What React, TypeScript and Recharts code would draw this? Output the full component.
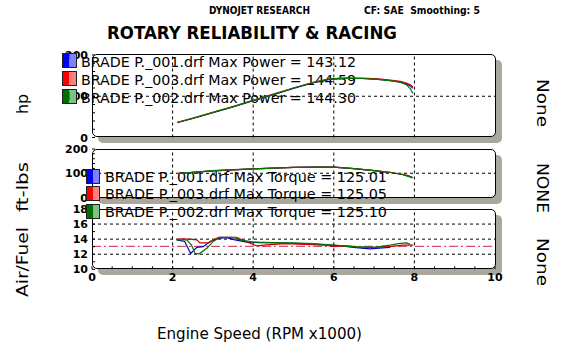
import React from 'react';
import { LineChart, Line, XAxis, YAxis, ReferenceLine } from 'recharts';

const W = 571;
const H = 356;
const FONT = '"DejaVu Sans", Verdana, sans-serif';

// ---------- data ----------
const rpmPower = [2.12, 2.5, 3.0, 3.5, 4.0, 4.5, 5.0, 5.5, 5.9, 6.3, 6.7, 7.1, 7.4, 7.65, 7.8, 7.9, 7.96];
const powerBlue = [37, 46, 60, 74, 89, 104, 119, 133, 141, 143, 143, 141, 138, 134, 130, 125, 119];
const powerRed = [36, 46, 61, 75, 90, 105, 120, 134, 142, 144, 144, 142, 139, 136, 132, 128, 123];
const powerGreen = [37, 47, 61, 75, 90, 104, 120, 134, 142, 144, 143, 141, 138, 134, 128, 118, 107];

const rpmTorque = [2.12, 2.5, 3.0, 3.5, 4.0, 4.5, 5.0, 5.5, 6.0, 6.5, 7.0, 7.4, 7.7, 7.85, 7.95];
const torqueBlue = [99, 104, 110, 114, 118, 121, 124, 125, 125, 119, 111, 103, 95, 88, 83];
const torqueRed = [98, 104, 110, 114, 118, 121, 124, 125, 125, 119, 111, 104, 96, 90, 80];
const torqueGreen = [99, 104, 111, 115, 118, 121, 124, 125, 125, 119, 111, 103, 95, 87, 82];

const rpmAfrBlue = [2.1, 2.3, 2.45, 2.6, 2.76, 2.93, 3.13, 3.34, 3.55, 3.84, 4.17, 4.6, 5.0, 5.4, 5.82, 6.2, 6.48, 6.9, 7.2, 7.4];
const afrBlue = [13.9, 13.7, 12.1, 12.9, 13.0, 13.7, 14.1, 14.2, 13.9, 13.6, 13.55, 13.5, 13.45, 13.35, 13.25, 13.1, 12.9, 12.7, 12.85, 12.9];
const rpmAfrRed = [2.14, 2.43, 2.6, 2.68, 2.89, 3.01, 3.14, 3.59, 3.72, 3.92, 4.09, 4.34, 4.8, 5.3, 5.8, 6.0, 6.3, 6.6, 7.0, 7.4, 7.7, 7.97];
const afrRed = [14.05, 14.0, 13.9, 13.5, 13.5, 13.9, 14.25, 14.25, 13.9, 13.45, 13.1, 13.25, 13.4, 13.3, 13.2, 13.0, 13.1, 12.95, 12.9, 13.0, 13.2, 13.2];
const rpmAfrGreen = [2.1, 2.35, 2.47, 2.56, 2.66, 2.85, 3.01, 3.18, 3.47, 3.68, 4.0, 4.5, 5.0, 5.5, 6.0, 6.5, 7.0, 7.4, 7.6, 7.8, 7.9];
const afrGreen = [13.9, 13.9, 13.2, 12.1, 12.05, 12.8, 13.7, 14.25, 14.25, 13.9, 13.6, 13.55, 13.5, 13.4, 13.2, 13.0, 12.9, 13.2, 13.4, 13.5, 13.3];

const afrTarget = 13.05;

const seriesNames = ['BRADE P._001.drf', 'BRADE P._003.drf', 'BRADE P._002.drf'];
const maxPower = ['143.12', '144.59', '144.30'];
const maxTorque = ['125.01', '125.05', '125.10'];

const xTicks = [0, 0.5, 1, 1.5, 2, 2.5, 3, 3.5, 4, 4.5, 5, 5.5, 6, 6.5, 7, 7.5, 8, 8.5, 9, 9.5, 10];
const xLabels = [0, 2, 4, 6, 8, 10];
const hpTicks = [0, 20, 40, 60, 80, 100, 120, 140, 160, 180, 200];
const hpLabels = [0, 100, 200];
const afrTicks = [10, 11, 12, 13, 14, 15, 16, 17, 18];
const afrLabels = [10, 12, 14, 16, 18];

const zip = (xs: number[], ys: number[]) => xs.map((x, i) => ({ x, y: ys[i] }));

const LINE_COLORS = ['#0000c8', '#d00000', '#007800'];
const SQ_DARK = ['#0000ff', '#ff0000', '#007000'];
const SQ_LIGHT = ['#8080ff', '#ff8080', '#80c080'];

// ---------- layout ----------
const PLOT_L = 92;
const PLOT_R = 495;
const YW = 40;

const panels = [
  { top: 55, bottom: 137.5, boxTop: 54, boxBottom: 137 },
  { top: 149, bottom: 197.5, boxTop: 149, boxBottom: 197.5 },
  { top: 209, bottom: 269.3, boxTop: 208.5, boxBottom: 269.3 },
];

const YTick = (labels: number[]) => (props: any) => {
  const { x, y, payload } = props;
  const v = payload.value;
  const show = labels.includes(v);
  return (
    <g>
      <line x1={x + 4} x2={x + 7} y1={y} y2={y} stroke="#000" strokeWidth={1} />
      {show && (
        <text x={x} y={y} dy={4} textAnchor="end" fontFamily={FONT} fontWeight="bold" fontSize={11} fill="#000">
          {v}
        </text>
      )}
    </g>
  );
};

const XTick = (props: any) => {
  const { x, y, payload } = props;
  const v = payload.value;
  const show = xLabels.includes(v);
  return (
    <g>
      <line x1={x} x2={x} y1={y - 6} y2={y - 9} stroke="#000" strokeWidth={1} />
      {show && (
        <text x={x} y={y + 6} textAnchor="middle" fontFamily={FONT} fontWeight="bold" fontSize={11} fill="#000">
          {v}
        </text>
      )}
    </g>
  );
};

const gridV = [2, 4, 6, 8];

function Panel({ idx, series, domain, ticks, labels, hLines, showX, extra }: any) {
  const p = panels[idx];
  const xh = showX ? 20 : 0;
  const margin = {
    top: p.top,
    bottom: H - p.bottom - xh,
    left: PLOT_L - YW,
    right: W - PLOT_R,
  };
  return (
    <div style={{ position: 'absolute', left: 0, top: 0, zIndex: 3 }}>
      <LineChart width={W} height={H} margin={margin}>
        <XAxis
          type="number"
          dataKey="x"
          domain={[0, 10]}
          ticks={xTicks}
          hide={!showX}
          height={xh}
          axisLine={false}
          tickLine={false}
          tickSize={0}
          tickMargin={6}
          tick={XTick}
          interval={0}
          allowDataOverflow
        />
        <YAxis
          type="number"
          dataKey="y"
          domain={domain}
          ticks={ticks}
          width={YW}
          axisLine={false}
          tickLine={false}
          tickSize={0}
          tickMargin={4}
          tick={YTick(labels)}
          interval={0}
          allowDataOverflow
        />
        {gridV.map((g) => (
          <ReferenceLine key={'v' + g} x={g} stroke="#000" strokeDasharray="3 3" strokeWidth={1} />
        ))}
        {hLines.map((g: number) => (
          <ReferenceLine key={'h' + g} y={g} stroke="#000" strokeDasharray="3 3" strokeWidth={1} />
        ))}
        {extra}
        {series.map((s: any, i: number) => (
          <Line
            key={i}
            data={s}
            dataKey="y"
            type="linear"
            stroke={LINE_COLORS[i]}
            strokeWidth={1.2}
            dot={false}
            isAnimationActive={false}
          />
        ))}
      </LineChart>
    </div>
  );
}

function Box({ idx }: { idx: number }) {
  const p = panels[idx];
  return (
    <div
      style={{
        position: 'absolute',
        left: PLOT_L,
        top: p.boxTop,
        width: PLOT_R - PLOT_L + 1,
        height: p.boxBottom - p.boxTop,
        border: '1px solid #000',
        borderRadius: 5,
        background: '#fff',
        boxShadow: '6px 6px 0 #aaa89c',
        boxSizing: 'border-box',
        zIndex: 1,
      }}
    />
  );
}

const Square = ({ x, y, i, w = 15, h = 15 }: any) => (
  <g>
    <rect x={x} y={y} width={w / 2} height={h} fill={SQ_DARK[i]} />
    <rect x={x + w / 2} y={y} width={w / 2} height={h} fill={SQ_LIGHT[i]} />
    <rect x={x + 0.5} y={y + 0.5} width={w - 1} height={h - 1} fill="none" stroke="#202020" strokeWidth={1} />
  </g>
);

const leg1 = { sqX: 62, sqY: [53, 71, 89], txtX: 81, txtY: [62, 80, 98], len: 275 };
const leg2 = { sqX: 86, sqY: [169, 186, 204], txtX: 105, txtY: [176.5, 194, 211.5], len: 282 };

export default function App() {
  const p1 = [zip(rpmPower, powerBlue), zip(rpmPower, powerRed), zip(rpmPower, powerGreen)];
  const p2 = [zip(rpmTorque, torqueBlue), zip(rpmTorque, torqueRed), zip(rpmTorque, torqueGreen)];
  const p3 = [zip(rpmAfrBlue, afrBlue), zip(rpmAfrRed, afrRed), zip(rpmAfrGreen, afrGreen)];

  return (
    <div style={{ position: 'absolute', left: 0, top: 0, width: W, height: H, background: '#fff', overflow: 'hidden' }}>
      <Box idx={0} />
      <Box idx={1} />
      <Box idx={2} />

      {/* legend texts (under the plot lines) */}
      <svg width={W} height={H} style={{ position: 'absolute', left: 0, top: 0, zIndex: 2 }}>
        {seriesNames.map((n, i) => (
          <text
            key={'a' + i}
            x={leg1.txtX}
            y={leg1.txtY[i]}
            dy={5}
            fontFamily={FONT}
            fontSize={14}
            fill="#000"
            textLength={leg1.len}
            lengthAdjust="spacingAndGlyphs"
          >
            {`${n} Max Power = ${maxPower[i]}`}
          </text>
        ))}
        {seriesNames.map((n, i) => (
          <text
            key={'b' + i}
            x={leg2.txtX}
            y={leg2.txtY[i]}
            dy={5}
            fontFamily={FONT}
            fontSize={14}
            fill="#000"
            textLength={leg2.len}
            lengthAdjust="spacingAndGlyphs"
          >
            {`${n} Max Torque = ${maxTorque[i]}`}
          </text>
        ))}
      </svg>

      <Panel idx={0} series={p1} domain={[0, 200]} ticks={hpTicks} labels={hpLabels} hLines={[100]} showX={false} />
      <Panel idx={1} series={p2} domain={[0, 200]} ticks={hpTicks} labels={hpLabels} hLines={[100]} showX={false} />
      <Panel
        idx={2}
        series={p3}
        domain={[10, 18]}
        ticks={afrTicks}
        labels={afrLabels}
        hLines={[12, 14, 16]}
        showX={true}
        extra={<ReferenceLine y={afrTarget} stroke="#d02050" strokeDasharray="9 3 2 3" strokeWidth={1} />}
      />

      {/* overlay: squares, titles, axis names */}
      <svg width={W} height={H} style={{ position: 'absolute', left: 0, top: 0, zIndex: 4 }}>
        {[0, 1, 2].map((i) => (
          <Square key={'s1' + i} x={leg1.sqX} y={leg1.sqY[i]} i={i} />
        ))}
        {[0, 1, 2].map((i) => (
          <Square key={'s2' + i} x={leg2.sqX} y={leg2.sqY[i]} i={i} w={14} />
        ))}
        <text x={209} y={14} fontFamily={FONT} fontWeight="bold" fontSize={10} textLength={101} lengthAdjust="spacingAndGlyphs">
          DYNOJET RESEARCH
        </text>
        <text x={364} y={14} fontFamily={FONT} fontWeight="bold" fontSize={10} textLength={116} lengthAdjust="spacingAndGlyphs" style={{ whiteSpace: 'pre' }}>
          CF: SAE  Smoothing: 5
        </text>
        <text x={107} y={38.5} fontFamily={FONT} fontWeight="bold" fontSize={18} textLength={290} lengthAdjust="spacingAndGlyphs">
          ROTARY RELIABILITY &amp; RACING
        </text>
        <text x={157} y={339} fontFamily={FONT} fontSize={16} textLength={205} lengthAdjust="spacingAndGlyphs">
          Engine Speed (RPM x1000)
        </text>
        <text transform="translate(28,104) rotate(-90)" textAnchor="middle" fontFamily={FONT} fontSize={16} textLength={20} lengthAdjust="spacingAndGlyphs">
          hp
        </text>
        <text transform="translate(28,187) rotate(-90)" textAnchor="middle" fontFamily={FONT} fontSize={16} textLength={50} lengthAdjust="spacingAndGlyphs">
          ft-lbs
        </text>
        <text transform="translate(28,262) rotate(-90)" textAnchor="middle" fontFamily={FONT} fontSize={16} textLength={70} lengthAdjust="spacingAndGlyphs">
          Air/Fuel
        </text>
        <text transform="translate(537,103) rotate(90)" textAnchor="middle" fontFamily={FONT} fontSize={16} textLength={48} lengthAdjust="spacingAndGlyphs">
          None
        </text>
        <text transform="translate(537,188) rotate(90)" textAnchor="middle" fontFamily={FONT} fontSize={16} textLength={50} lengthAdjust="spacingAndGlyphs">
          NONE
        </text>
        <text transform="translate(537,262) rotate(90)" textAnchor="middle" fontFamily={FONT} fontSize={16} textLength={48} lengthAdjust="spacingAndGlyphs">
          None
        </text>
      </svg>
    </div>
  );
}
